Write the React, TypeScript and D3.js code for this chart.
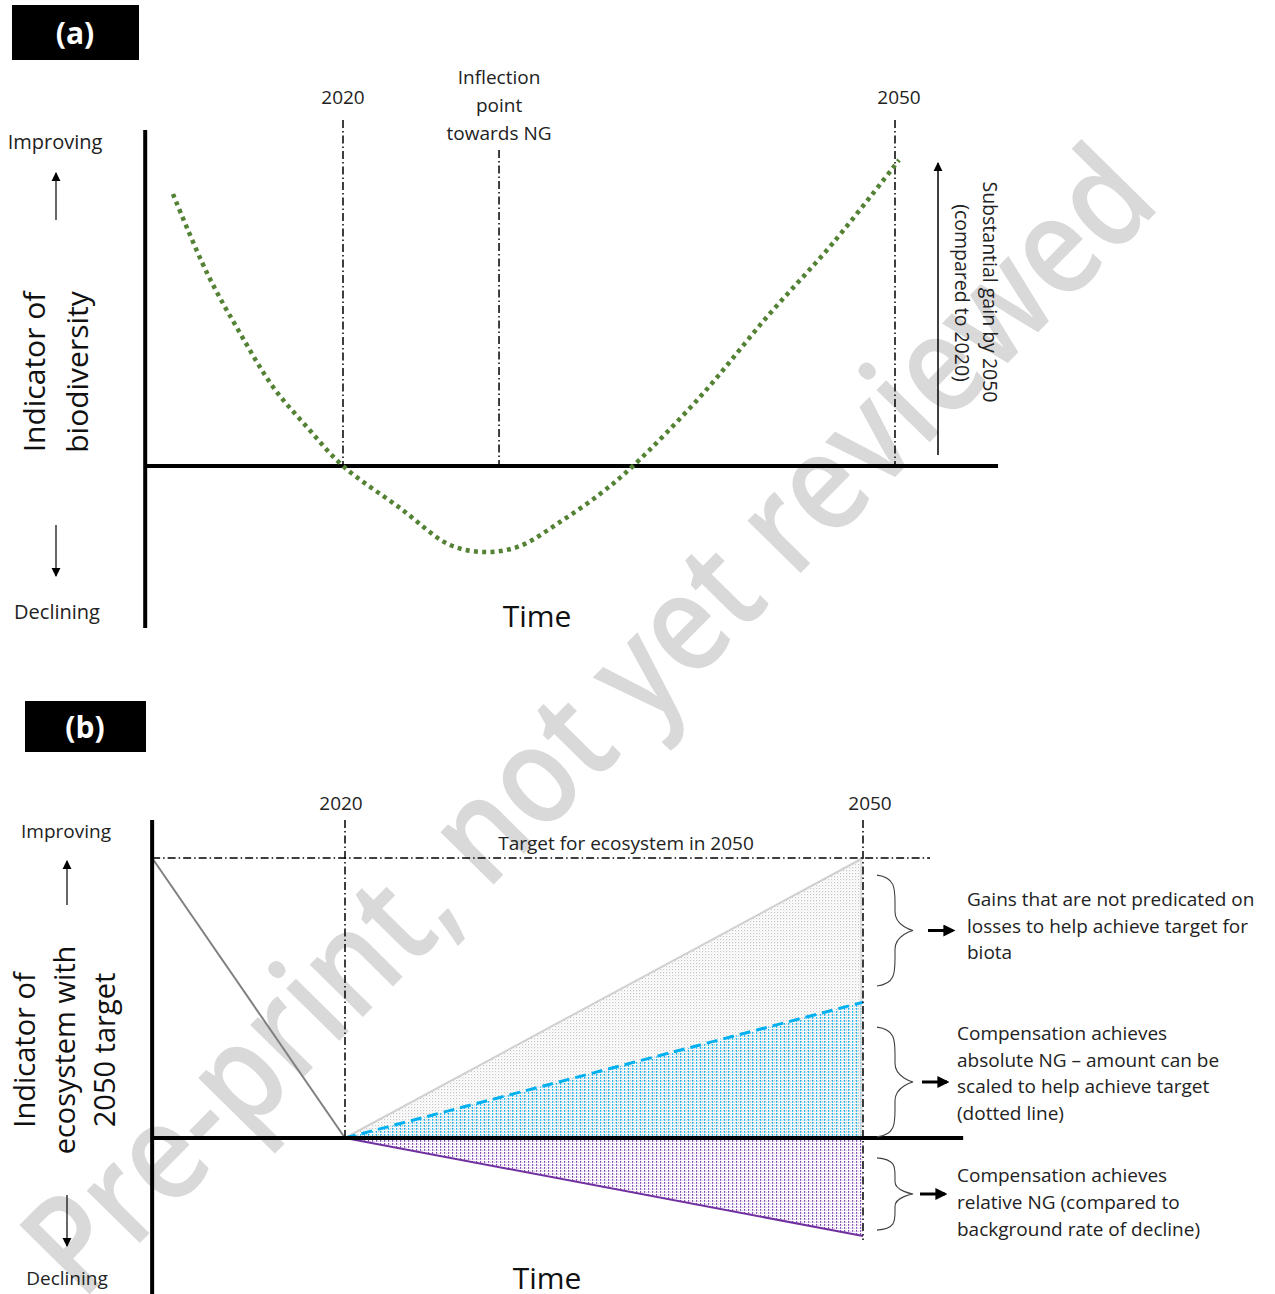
import React from 'react';
import * as d3 from 'd3';

const FONT = "'Open Sans', 'DejaVu Sans', sans-serif";

// panel (a): indicator of biodiversity over time
const curveYears = [2010.76, 2012.61, 2014.4, 2016.2, 2018.04, 2020, 2023.1, 2025.82, 2027.83, 2029.62, 2031.79, 2033.97, 2035.76, 2039.4, 2043.04, 2046.63, 2050.22];
const curveValues = [2.72, 1.93, 1.33, 0.79, 0.39, 0.0, -0.42, -0.79, -0.86, -0.8, -0.56, -0.28, 0.0, 0.69, 1.49, 2.23, 3.06];
const refYearsA = [2020, 2028.48, 2050];
const refTopsA = [3.46, 3.16, 3.46];
const refLabelsA = [['2020'], ['Inflection', 'point', 'towards NG'], ['2050']];

// panel (b): trajectories relative to the 2050 target (target = 100)
const pastYears = [2008.83, 2020];
const pastValues = [100, 0];
const futureYears = [2020, 2050];
const targetValues = [0, 100];
const absoluteNG = [0, 48.5];
const relativeNG = [0, -35];
const refYearsB = [2020, 2050];
const refBottomsB = [0, -36.4];

const braceTops = [93.9, 39.6, -7.1];
const braceBottoms = [54.3, 0.4, -32.9];
const braceTextX = [967, 957, 957];
const braceTextShift = [-4, -8, 9];
const braceTexts = [
  ['Gains that are not predicated on', 'losses to help achieve target for', 'biota'],
  ['Compensation achieves', 'absolute NG \u2013 amount can be', 'scaled to help achieve target', '(dotted line)'],
  ['Compensation achieves', 'relative NG (compared to', 'background rate of decline)'],
];

const DASHDOT = '8,3,1.5,3';

function brace(x0: number, w: number, y0: number, y1: number) {
  const m = (y0 + y1) / 2;
  const h = y1 - y0;
  const xm = x0 + w * 0.5;
  return `M${x0},${y0} C${xm},${y0 + h * 0.02} ${xm},${y0 + h * 0.12} ${xm},${y0 + h * 0.25}
    L${xm},${m - h * 0.17} C${xm},${m - h * 0.04} ${x0 + w},${m} ${x0 + w},${m}
    C${x0 + w},${m} ${xm},${m + h * 0.04} ${xm},${m + h * 0.17}
    L${xm},${y1 - h * 0.25} C${xm},${y1 - h * 0.12} ${xm},${y1 - h * 0.02} ${x0},${y1}`;
}

export default function App() {
  // panel (a) scales
  const xA = d3.scaleLinear().domain([2020, 2050]).range([343, 895]);
  const yA = d3.scaleLinear().domain([-1.62, 3.36]).range([628, 130]);
  const axisXA = [2009.25, 2055.6];

  const curveLine = d3
    .line<number>()
    .x((d, i) => xA(curveYears[i]))
    .y((d) => yA(d))
    .curve(d3.curveCatmullRom);

  // panel (b) scales
  const xB = d3.scaleLinear().domain([2020, 2050]).range([345, 863]);
  const yB = d3.scaleLinear().domain([0, 100]).range([1138, 858]);
  const axisXB = [2008.83, 2055.8];
  const axisYB = [-55.7, 113.6];

  const lineB = (years: number[]) =>
    d3
      .line<number>()
      .x((d, i) => xB(years[i]))
      .y((d) => yB(d));
  const areaB = (vals: number[]) =>
    d3
      .area<number>()
      .x((d, i) => xB(futureYears[i]))
      .y0(yB(0))
      .y1((d) => yB(d))(vals) as string;

  return (
    <svg width={1275} height={1294} style={{ position: 'absolute', left: 0, top: 0 }} fontFamily={FONT}>
      <defs>
        <marker id="head" viewBox="0 0 10 10" refX="9" refY="5" markerWidth="9" markerHeight="11" markerUnits="userSpaceOnUse" orient="auto">
          <path d="M0,0 L10,5 L0,10 z" fill="#000" />
        </marker>
        <marker id="headBold" viewBox="0 0 10 10" refX="8" refY="5" markerWidth="4" markerHeight="4" orient="auto">
          <path d="M0,0 L10,5 L0,10 z" fill="#000" />
        </marker>
        <pattern id="grayDots" width="3" height="3" patternUnits="userSpaceOnUse">
          <rect x="0" y="0" width="1.2" height="1.2" fill="#c4c4c4" />
          <rect x="1.5" y="1.5" width="1" height="1" fill="#e0e0e0" />
        </pattern>
        <pattern id="blueStripes" width="4" height="3" patternUnits="userSpaceOnUse">
          <rect x="0" y="0" width="1.2" height="1.8" fill="#1ab4f0" />
          <rect x="2.3" y="1" width="0.9" height="1" fill="#a6e2f8" />
        </pattern>
        <pattern id="purpleStripes" width="4" height="3" patternUnits="userSpaceOnUse">
          <rect x="0" y="0" width="1.2" height="1.8" fill="#8447b4" />
          <rect x="2.3" y="1" width="0.9" height="1" fill="#cdb3e2" />
        </pattern>
      </defs>

      {/* watermark */}
      <text
        x={0}
        y={0}
        transform="translate(596,728) rotate(-45.4)"
        textAnchor="middle"
        dominantBaseline="middle"
        fontSize={138}
        fontWeight={600}
        textLength={1540}
        lengthAdjust="spacingAndGlyphs"
        fill="#d9d9d9"
      >
        Pre-print, not yet reviewed
      </text>

      {/* ---------- panel (a) ---------- */}
      <rect x={12} y={5} width={127} height={55} fill="#000" />
      <text x={75} y={44} textAnchor="middle" fill="#fff" fontSize={30} fontWeight={700}>
        (a)
      </text>

      <text x={55} y={149} textAnchor="middle" fontSize={20} fill="#222">Improving</text>
      <line x1={56} y1={220} x2={56} y2={173} stroke="#000" strokeWidth={1.2} markerEnd="url(#head)" />
      <line x1={56} y1={525} x2={56} y2={576} stroke="#000" strokeWidth={1.2} markerEnd="url(#head)" />
      <text x={57} y={619} textAnchor="middle" fontSize={20} fill="#222">Declining</text>

      <g transform="translate(45,372) rotate(-90)">
        <text textAnchor="middle" fontSize={30} fill="#111">Indicator of</text>
      </g>
      <g transform="translate(88,372) rotate(-90)">
        <text textAnchor="middle" fontSize={30} fill="#111">biodiversity</text>
      </g>

      {refYearsA.map((yr, i) => (
        <g key={`ra${i}`}>
          <line x1={xA(yr)} x2={xA(yr)} y1={yA(refTopsA[i])} y2={yA(0)} stroke="#000" strokeWidth={1.5} strokeDasharray={DASHDOT} />
          {refLabelsA[i].map((t, j) => (
            <text
              key={j}
              x={xA(yr) + (i === 2 ? 4 : 0)}
              y={(i === 1 ? 84 : 104) + j * 28}
              textAnchor="middle"
              fontSize={19}
              fill="#222"
            >
              {t}
            </text>
          ))}
        </g>
      ))}

      <line x1={xA(axisXA[0])} x2={xA(axisXA[0])} y1={130} y2={628} stroke="#000" strokeWidth={4} />
      <line x1={xA(axisXA[0])} x2={xA(axisXA[1])} y1={yA(0)} y2={yA(0)} stroke="#000" strokeWidth={4} />

      <path
        d={curveLine(curveValues) as string}
        fill="none"
        stroke="#548235"
        strokeWidth={4.5}
        strokeDasharray="4,4.3"
      />

      <line x1={938} x2={938} y1={yA(0.11)} y2={yA(3.03)} stroke="#000" strokeWidth={1.5} markerEnd="url(#head)" />
      <g transform="translate(983,292) rotate(90)">
        <text textAnchor="middle" fontSize={19.5} fill="#222">Substantial gain by 2050</text>
      </g>
      <g transform="translate(955,293) rotate(90)">
        <text textAnchor="middle" fontSize={19.5} fill="#222">(compared to 2020)</text>
      </g>

      <text x={537} y={627} textAnchor="middle" fontSize={30} fill="#111">Time</text>

      {/* ---------- panel (b) ---------- */}
      <rect x={25} y={701} width={121} height={51} fill="#000" />
      <text x={85} y={738} textAnchor="middle" fill="#fff" fontSize={30} fontWeight={700}>
        (b)
      </text>

      <text x={66} y={838} textAnchor="middle" fontSize={19} fill="#222">Improving</text>
      <line x1={67} y1={905} x2={67} y2={861} stroke="#000" strokeWidth={1.2} markerEnd="url(#head)" />
      <line x1={67} y1={1195} x2={67} y2={1246} stroke="#000" strokeWidth={1.2} markerEnd="url(#head)" />
      <text x={67} y={1285} textAnchor="middle" fontSize={19} fill="#222">Declining</text>

      {['Indicator of', 'ecosystem with', '2050 target'].map((t, i) => (
        <g key={t} transform={`translate(${35 + i * 40},1050) rotate(-90)`}>
          <text textAnchor="middle" fontSize={29} fill="#111">{t}</text>
        </g>
      ))}

      {/* filled gains / losses */}
      <path d={areaB(targetValues)} fill="url(#grayDots)" />
      <path d={areaB(absoluteNG)} fill="url(#blueStripes)" />
      <path d={areaB(relativeNG)} fill="url(#purpleStripes)" />

      <path d={lineB(futureYears)(targetValues) as string} fill="none" stroke="#d0d0d0" strokeWidth={2} />
      <line x1={xB(2050) - 2} x2={xB(2050) - 2} y1={yB(100)} y2={yB(0)} stroke="#dadada" strokeWidth={1.5} />
      <path d={lineB(futureYears)(absoluteNG) as string} fill="none" stroke="#00b0f0" strokeWidth={3} strokeDasharray="11,6" />
      <path d={lineB(futureYears)(relativeNG) as string} fill="none" stroke="#7030a0" strokeWidth={2} />
      <path d={lineB(pastYears)(pastValues) as string} fill="none" stroke="#808080" strokeWidth={2} />

      {/* target and reference years */}
      <line x1={xB(axisXB[0])} x2={930} y1={yB(100)} y2={yB(100)} stroke="#000" strokeWidth={1.5} strokeDasharray={DASHDOT} />
      <text x={626} y={850} textAnchor="middle" fontSize={19} fill="#222">Target for ecosystem in 2050</text>
      {refYearsB.map((yr, i) => (
        <g key={`rb${i}`}>
          <line x1={xB(yr)} x2={xB(yr)} y1={yB(axisYB[1])} y2={yB(refBottomsB[i])} stroke="#000" strokeWidth={1.5} strokeDasharray={DASHDOT} />
          <text x={xB(yr) + (i === 0 ? -4 : 7)} y={810} textAnchor="middle" fontSize={19} fill="#222">
            {yr}
          </text>
        </g>
      ))}

      <line x1={xB(axisXB[0])} x2={xB(axisXB[0])} y1={yB(axisYB[1])} y2={yB(axisYB[0])} stroke="#000" strokeWidth={4} />
      <line x1={xB(axisXB[0])} x2={xB(axisXB[1])} y1={yB(0)} y2={yB(0)} stroke="#000" strokeWidth={4} />

      {/* braces with explanations */}
      {braceTops.map((top, i) => {
        const y0 = yB(top);
        const y1 = yB(braceBottoms[i]);
        const mid = (y0 + y1) / 2;
        const lines = braceTexts[i];
        const ax0 = [928, 922, 920][i];
        return (
          <g key={`br${i}`}>
            <path d={brace(877, 36, y0, y1)} fill="none" stroke="#404040" strokeWidth={1.1} />
            <line x1={ax0} x2={ax0 + 25} y1={mid} y2={mid} stroke="#000" strokeWidth={3} markerEnd="url(#headBold)" />
            {lines.map((t, j) => (
              <text
                key={j}
                x={braceTextX[i]}
                y={mid + braceTextShift[i] + 6 + (j - (lines.length - 1) / 2) * 26.7}
                fontSize={19}
                fill="#222"
              >
                {t}
              </text>
            ))}
          </g>
        );
      })}

      <text x={547} y={1289} textAnchor="middle" fontSize={30} fill="#111">Time</text>
    </svg>
  );
}
